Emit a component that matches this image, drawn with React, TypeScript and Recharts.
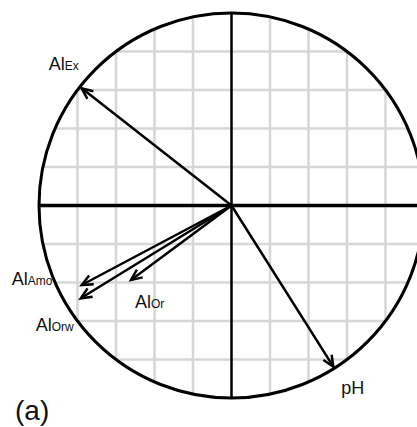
import React from 'react';
import { ScatterChart, XAxis, YAxis, Scatter, ReferenceLine, ReferenceDot } from 'recharts';

// Loadings (correlation circle)
const variables = ['AlEx', 'pH', 'AlAmo', 'AlOrw', 'AlOr'];
const labelMain = ['Al', 'pH', 'Al', 'Al', 'Al'];
const labelSub = ['Ex', '', 'Amo', 'Orw', 'Or'];
const pc1 = [-0.778, 0.529, -0.778, -0.783, -0.522];
const pc2 = [0.609, -0.837, -0.413, -0.482, -0.387];
const gridTicks = [-0.8, -0.6, -0.4, -0.2, 0.2, 0.4, 0.6, 0.8];
const panelLabel = '(a)';

// label offsets (px) relative to arrow tips
const labelOffsets: Record<string, [number, number]> = {
  AlEx: [-33, -18],
  pH: [8, 27],
  AlAmo: [-70, 0],
  AlOrw: [-45, 33],
  AlOr: [4, 28],
};

const CHART_W = 440;
const CHART_H = 427;
const CX = 231.5;
const CY = 205.5;
const R = 192.5;
const FONT = '"Liberation Sans", Arial, Helvetica, sans-serif';

const series = variables.map((name, i) => ({
  name,
  data: [
    { x: 0, y: 0, tip: false, name },
    { x: pc1[i], y: pc2[i], tip: true, name, main: labelMain[i], sub: labelSub[i] },
  ],
}));

const ArrowShape = (props: any) => {
  const { cx, cy, payload } = props;
  if (!payload || !payload.tip) return <g />;
  const len = Math.hypot(payload.x, payload.y);
  const ux = payload.x / len;
  const uy = -payload.y / len;
  const bx = -ux;
  const by = -uy;
  const L = 12;
  const a = 0.42;
  const rot = (ang: number) => [bx * Math.cos(ang) - by * Math.sin(ang), bx * Math.sin(ang) + by * Math.cos(ang)];
  const [x1, y1] = rot(a);
  const [x2, y2] = rot(-a);
  const [ox, oy] = labelOffsets[payload.name] || [0, 0];
  return (
    <g>
      <path
        d={`M${cx + x1 * L},${cy + y1 * L}L${cx},${cy}L${cx + x2 * L},${cy + y2 * L}`}
        fill="none"
        stroke="#000"
        strokeWidth={2.5}
      />
      <text x={cx + ox} y={cy + oy} fontFamily={FONT} fontSize={18} fill="#111">
        <tspan>{payload.main}</tspan>
        {payload.sub ? <tspan fontSize={12}>{payload.sub}</tspan> : null}
      </text>
    </g>
  );
};

export default function App() {
  return (
    <div style={{ position: 'fixed', left: 0, top: 0, width: 417, height: 427, overflow: 'hidden', background: '#fff' }}>
      <ScatterChart
        width={CHART_W}
        height={CHART_H}
        margin={{ left: CX - R, right: CHART_W - (CX + R), top: CY - R, bottom: CHART_H - (CY + R) }}
      >
        <XAxis type="number" dataKey="x" domain={[-1, 1]} hide />
        <YAxis type="number" dataKey="y" domain={[-1, 1]} hide width={0} />
        {gridTicks.map((t) => {
          const h = Math.sqrt(1 - t * t);
          return (
            <ReferenceLine
              key={'v' + t}
              segment={[{ x: t, y: -h }, { x: t, y: h }]}
              stroke="#d6d6d6"
              strokeWidth={2.5}
              ifOverflow="visible"
            />
          );
        })}
        {gridTicks.map((t) => {
          const h = Math.sqrt(1 - t * t);
          return (
            <ReferenceLine
              key={'h' + t}
              segment={[{ x: -h, y: t }, { x: h, y: t }]}
              stroke="#d6d6d6"
              strokeWidth={2.5}
              ifOverflow="visible"
            />
          );
        })}
        <ReferenceLine segment={[{ x: -1, y: 0 }, { x: 1, y: 0 }]} stroke="#000" strokeWidth={3.5} ifOverflow="visible" />
        <ReferenceLine segment={[{ x: 0, y: -1 }, { x: 0, y: 1 }]} stroke="#000" strokeWidth={2.5} ifOverflow="visible" />
        <ReferenceDot x={0} y={0} r={R} fill="none" stroke="#000" strokeWidth={3} ifOverflow="visible" />
        {series.map((s) => (
          <Scatter
            key={s.name}
            name={s.name}
            data={s.data}
            line={{ stroke: '#000', strokeWidth: 2.5 }}
            lineType="joint"
            shape={ArrowShape}
            isAnimationActive={false}
          />
        ))}
      </ScatterChart>
      <svg width={417} height={427} style={{ position: 'absolute', left: 0, top: 0, pointerEvents: 'none' }}>
        <text x={15} y={420} fontFamily={FONT} fontSize={28} fill="#111">
          {panelLabel}
        </text>
      </svg>
    </div>
  );
}
